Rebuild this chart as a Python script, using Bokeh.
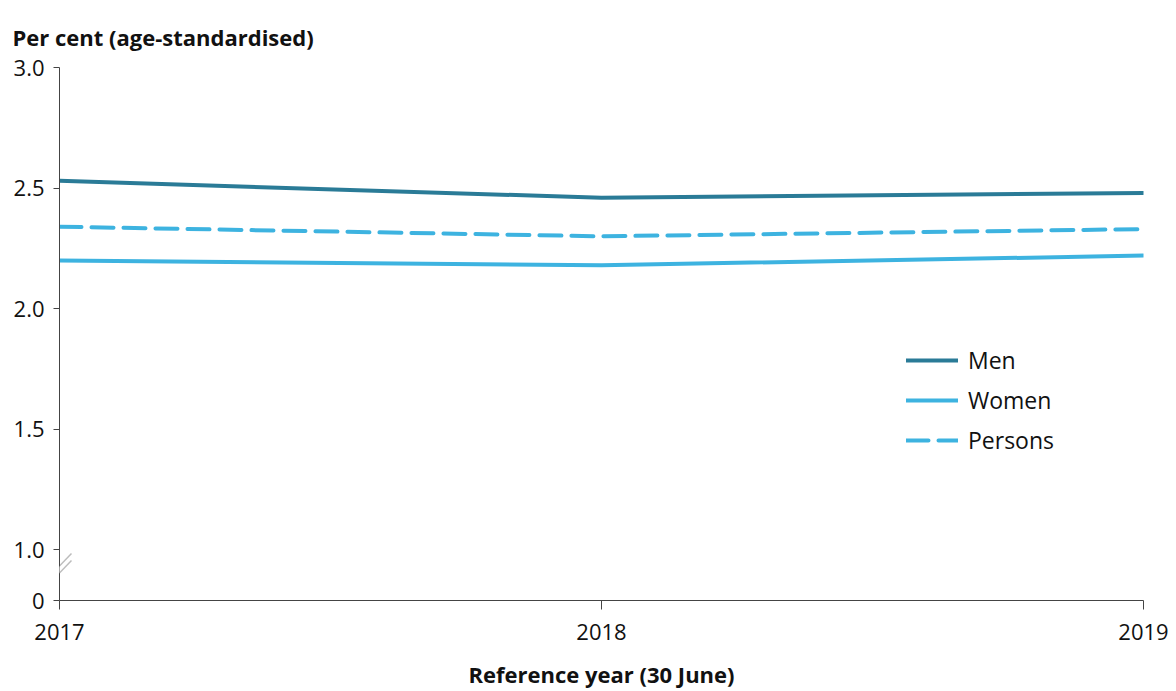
from bokeh.plotting import figure
from bokeh.models import Range1d, FixedTicker, Legend, LegendItem, PolyAnnotation
from bokeh.embed import file_html
from bokeh.resources import INLINE

years = [2017, 2018, 2019]
men = [2.53, 2.46, 2.48]
women = [2.20, 2.18, 2.22]
persons = [2.34, 2.30, 2.33]
y_ticks = [0.79, 1.0, 1.5, 2.0, 2.5, 3.0]
y_labels = {0.79: "0", 1.0: "1.0", 1.5: "1.5", 2.0: "2.0", 2.5: "2.5", 3.0: "3.0"}

FONT = "Open Sans"
DARK = "#2a7b97"
LIGHT = "#3db3e0"
TXT = "#111111"
AX = "#444444"

p = figure(width=1176, height=691, output_backend="svg", toolbar_location=None,
           x_range=Range1d(2017, 2019), y_range=Range1d(0.79, 3.0),
           min_border_left=59, min_border_right=33, min_border_top=67, min_border_bottom=91)
p.outline_line_color = None
p.grid.visible = False
p.background_fill_color = "white"

p.title.text = "Per cent (age-standardised)"
p.title.text_font = FONT
p.title.text_font_size = "22px"
p.title.text_font_style = "bold"
p.title.text_color = TXT
p.title.align = "left"
p.title.vertical_align = "top"
p.title.offset = -47
p.title.standoff = 28

ya = p.yaxis[0]
ya.ticker = FixedTicker(ticks=y_ticks)
ya.major_label_overrides = y_labels
ya.major_label_text_font = FONT
ya.major_label_text_font_size = "22px"
ya.major_label_text_color = TXT
ya.major_tick_out = 6
ya.major_tick_in = 0
ya.minor_tick_line_color = None
ya.axis_line_color = AX
ya.major_tick_line_color = AX
ya.major_label_standoff = 9

xa = p.xaxis[0]
xa.ticker = FixedTicker(ticks=years)
xa.major_label_text_font = FONT
xa.major_label_text_font_size = "22px"
xa.major_label_text_color = TXT
xa.major_tick_out = 9
xa.major_tick_in = 0
xa.minor_tick_line_color = None
xa.axis_line_color = AX
xa.major_tick_line_color = AX
xa.major_label_standoff = 14
xa.axis_label = "Reference year (30 June)"
xa.axis_label_text_font = FONT
xa.axis_label_text_font_size = "22px"
xa.axis_label_text_font_style = "bold"
xa.axis_label_text_color = TXT
xa.axis_label_standoff = 16

r_men = p.line(years, men, line_color=DARK, line_width=4, line_cap="round")
r_women = p.line(years, women, line_color=LIGHT, line_width=4, line_cap="round")
r_persons = p.line(years, persons, line_color=LIGHT, line_width=4, line_cap="round",
                   line_dash="22 10")

legend = Legend(items=[LegendItem(label="Men", renderers=[r_men]),
                       LegendItem(label="Women", renderers=[r_women]),
                       LegendItem(label="Persons", renderers=[r_persons])],
                location=(847, 144), glyph_width=52, glyph_height=20, label_height=20,
                spacing=8, label_standoff=10, padding=0, margin=0,
                border_line_color=None, background_fill_alpha=0,
                label_text_font=FONT, label_text_font_size="23px", label_text_color=TXT)
p.add_layout(legend)

# axis break marks
p.add_layout(PolyAnnotation(xs=[45, 71, 71, 45], ys=[580, 553, 560, 587],
                            xs_units="canvas", ys_units="canvas",
                            fill_color="white", fill_alpha=1, line_color=None))
p.add_layout(PolyAnnotation(xs=[45, 71], ys=[580, 553], xs_units="canvas", ys_units="canvas",
                            fill_alpha=0, line_color="#222222", line_width=1.5))
p.add_layout(PolyAnnotation(xs=[45, 71], ys=[587, 560], xs_units="canvas", ys_units="canvas",
                            fill_alpha=0, line_color="#222222", line_width=1.5))

open("out.html", "w").write(file_html(p, INLINE))
